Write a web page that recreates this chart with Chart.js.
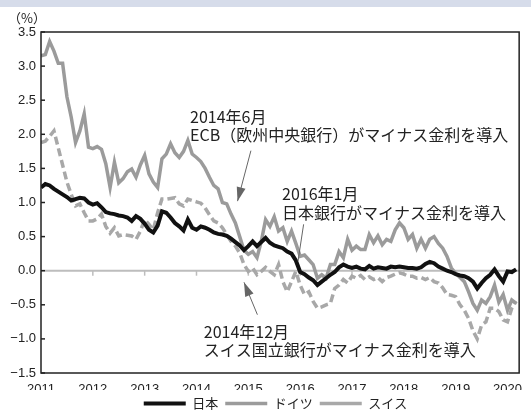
<!DOCTYPE html>
<html>
<head>
<meta charset="utf-8">
<script src="https://cdn.jsdelivr.net/npm/chart.js@4.4.0/dist/chart.umd.min.js"></script>
<style>
html, body { margin: 0; padding: 0; background: #fff; }
</style>
</head>
<body>
<canvas id="rate-chart" width="531" height="410"></canvas>
<script>
// 10年国債利回り（月次、2011年1月〜2020年3月）
var yearLabels = ['2011', '2012', '2013', '2014', '2015', '2016', '2017', '2018', '2019', '2020'];
var seriesNames = ['日本', 'ドイツ', 'スイス'];

var japan = [
    1.22, 1.27, 1.25, 1.20, 1.16, 1.12, 1.08, 1.03, 1.05, 1.07, 1.06, 1.00,
    0.97, 0.99, 0.93, 0.86, 0.84, 0.83, 0.81, 0.80, 0.78, 0.73, 0.80, 0.76,
    0.69, 0.60, 0.56, 0.66, 0.87, 0.85, 0.78, 0.70, 0.65, 0.59, 0.75, 0.63,
    0.60, 0.65, 0.63, 0.60, 0.56, 0.54, 0.53, 0.51, 0.47, 0.42, 0.37, 0.30,
    0.36, 0.43, 0.36, 0.42, 0.48, 0.41, 0.37, 0.35, 0.33, 0.28, 0.25, 0.15,
    -0.02, -0.05, -0.10, -0.14, -0.21, -0.16, -0.11, -0.06, -0.02, 0.05, 0.09, 0.06,
    0.04, 0.06, 0.03, 0.02, 0.07, 0.03, 0.05, 0.04, 0.03, 0.06, 0.05, 0.06,
    0.05, 0.04, 0.04, 0.03, 0.05, 0.10, 0.13, 0.11, 0.06, 0.03, 0.00, -0.02,
    -0.05, -0.07, -0.08, -0.11, -0.16, -0.26, -0.18, -0.11, -0.06, 0.02, -0.08, -0.16,
    -0.01, -0.02, 0.02
];
var germany = [
    3.15, 3.17, 3.36, 3.22, 3.04, 3.04, 2.55, 2.25, 1.88, 2.05, 2.30, 1.81,
    1.79, 1.82, 1.78, 1.57, 1.22, 1.59, 1.29, 1.35, 1.45, 1.49, 1.37, 1.55,
    1.69, 1.42, 1.30, 1.22, 1.64, 1.71, 1.86, 1.73, 1.66, 1.75, 1.91, 1.71,
    1.66, 1.60, 1.50, 1.37, 1.25, 1.20, 1.00, 0.98, 0.83, 0.70, 0.50, 0.30,
    0.24, 0.28, 0.19, 0.43, 0.75, 0.65, 0.79, 0.58, 0.63, 0.43, 0.58, 0.40,
    0.21, 0.23, 0.16, 0.09, -0.11, -0.06, -0.11, 0.09, 0.09, 0.28, 0.19, 0.46,
    0.30, 0.36, 0.31, 0.31, 0.53, 0.41, 0.51, 0.38, 0.46, 0.43, 0.60, 0.70,
    0.63, 0.46, 0.53, 0.33, 0.46, 0.33, 0.46, 0.50, 0.40, 0.33, 0.21, 0.04,
    -0.04, -0.10, -0.16, -0.31, -0.48, -0.58, -0.43, -0.48, -0.38, -0.21, -0.46, -0.35,
    -0.58, -0.43, -0.48
];
var swiss = [
    1.88, 1.90, 1.97, 2.05, 1.80, 1.55, 1.30, 1.12, 0.95, 0.98, 0.85, 0.73,
    0.73, 0.76, 0.83, 0.65, 0.55, 0.63, 0.51, 0.53, 0.52, 0.51, 0.46, 0.58,
    0.75, 0.68, 0.60, 0.85, 1.05, 1.05, 1.06, 1.07, 0.98, 0.95, 1.05, 1.03,
    1.01, 0.99, 0.92, 0.82, 0.73, 0.70, 0.63, 0.53, 0.43, 0.36, 0.26, 0.09,
    -0.01, 0.04, -0.06, -0.01, 0.05, -0.01, -0.06, 0.09, -0.16, -0.31, -0.16, -0.01,
    -0.21, -0.35, -0.31, -0.45, -0.55, -0.53, -0.50, -0.48, -0.26, -0.21, -0.13, -0.18,
    -0.08, -0.11, -0.07, -0.13, -0.09, -0.13, -0.10, -0.16, -0.10, -0.08, -0.05, -0.03,
    -0.05, -0.08, -0.08, -0.11, -0.10, -0.13, -0.10, -0.16, -0.18, -0.25, -0.35, -0.36,
    -0.38, -0.50, -0.58, -0.70, -0.88, -1.00, -0.80, -0.75, -0.55, -0.55, -0.60, -0.72,
    -0.75, -0.55, -0.45
];

// 注記（位置は月番号と利回りで指定）
var notes = [
    { lines: ['2014年6月', 'ECB（欧州中央銀行）がマイナス金利を導入'], at: [34.5, 2.26], from: [48.6, 1.76], to: [45.5, 1.02], head: true },
    { lines: ['2016年1月', '日本銀行がマイナス金利を導入'], at: [55.8, 1.125], from: [60.8, 0.68], to: [59.5, 0.14], head: false },
    { lines: ['2014年12月', 'スイス国立銀行がマイナス金利を導入'], at: [37.7, -0.895], from: [50.1, -0.645], to: [47, -0.17], head: true }
];

function toPoints(values) {
    return values.map(function (v, i) { return { x: i, y: v }; });
}

var jpFont = '"Noto Sans CJK JP", "Noto Sans", sans-serif';
var numFont = '"Liberation Sans", Arial, sans-serif';

var decorations = {
    id: 'decorations',
    afterLayout: function (chart) {
        // 凡例を少し右へ
        chart.legend.left += 22;
    },
    beforeDraw: function (chart) {
        var ctx = chart.ctx;
        ctx.save();
        ctx.fillStyle = '#d6dcea';
        ctx.fillRect(0, 0, chart.width, 7);
        ctx.restore();
    },
    beforeDatasetsDraw: function (chart) {
        var ctx = chart.ctx, area = chart.chartArea;
        var xs = chart.scales.x, ys = chart.scales.y;
        var y0 = ys.getPixelForValue(0);
        ctx.save();
        ctx.strokeStyle = '#bdbdbd';
        ctx.lineWidth = 2;
        ctx.beginPath();
        ctx.moveTo(area.left, y0);
        ctx.lineTo(area.right, y0);
        ctx.stroke();
        ctx.lineWidth = 1.5;
        xs.ticks.forEach(function (t) {
            if (t.value <= 0) return;
            var px = xs.getPixelForValue(t.value);
            ctx.beginPath();
            ctx.moveTo(px, y0);
            ctx.lineTo(px, y0 + 5);
            ctx.stroke();
        });
        ctx.restore();
    },
    afterDatasetsDraw: function (chart) {
        var ctx = chart.ctx, area = chart.chartArea;
        var xs = chart.scales.x, ys = chart.scales.y;
        ctx.save();
        // 枠
        ctx.strokeStyle = '#222';
        ctx.lineWidth = 1.5;
        ctx.strokeRect(area.left, area.top, area.right - area.left, area.bottom - area.top);
        // 目盛り（内向き）
        ys.ticks.forEach(function (t) {
            var py = ys.getPixelForValue(t.value);
            ctx.beginPath();
            ctx.moveTo(area.left, py);
            ctx.lineTo(area.left + 4, py);
            ctx.stroke();
        });
        // 単位
        ctx.fillStyle = '#222';
        ctx.font = '13px ' + jpFont;
        ctx.textBaseline = 'middle';
        ctx.textAlign = 'left';
        ctx.fillText('（%）', 8, area.top - 14);
        // 注記
        ctx.font = '16px ' + jpFont;
        notes.forEach(function (n) {
            var tx = xs.getPixelForValue(n.at[0]);
            var ty = ys.getPixelForValue(n.at[1]);
            n.lines.forEach(function (line, i) {
                ctx.fillText(line, tx, ty + i * 18.5);
            });
            var x1 = xs.getPixelForValue(n.from[0]), y1 = ys.getPixelForValue(n.from[1]);
            var x2 = xs.getPixelForValue(n.to[0]), y2 = ys.getPixelForValue(n.to[1]);
            ctx.strokeStyle = '#666';
            ctx.lineWidth = 1;
            ctx.beginPath();
            ctx.moveTo(x1, y1);
            ctx.lineTo(x2, y2);
            ctx.stroke();
            if (n.head) {
                var ang = Math.atan2(y2 - y1, x2 - x1);
                var len = 14, half = 4.5;
                var bx = x2 - len * Math.cos(ang), by = y2 - len * Math.sin(ang);
                ctx.fillStyle = '#666';
                ctx.beginPath();
                ctx.moveTo(x2, y2);
                ctx.lineTo(bx + half * Math.sin(ang), by - half * Math.cos(ang));
                ctx.lineTo(bx - half * Math.sin(ang), by + half * Math.cos(ang));
                ctx.closePath();
                ctx.fill();
                ctx.fillStyle = '#222';
            }
        });
        ctx.restore();
    }
};

new Chart(document.getElementById('rate-chart'), {
    type: 'line',
    data: {
        datasets: [
            {
                label: seriesNames[0],
                data: toPoints(japan),
                borderColor: '#111',
                backgroundColor: '#111',
                borderWidth: 4,
                pointRadius: 0,
                tension: 0
            },
            {
                label: seriesNames[1],
                data: toPoints(germany),
                borderColor: '#9b9b9b',
                backgroundColor: '#9b9b9b',
                borderWidth: 3.5,
                pointRadius: 0,
                tension: 0
            },
            {
                label: seriesNames[2],
                data: toPoints(swiss),
                borderColor: '#a8a8a8',
                backgroundColor: '#a8a8a8',
                borderWidth: 3.5,
                borderDash: [8, 4],
                pointRadius: 0,
                tension: 0
            }
        ]
    },
    options: {
        responsive: false,
        animation: false,
        layout: { padding: { top: 32, right: 2, bottom: -10, left: 0 } },
        plugins: {
            tooltip: { enabled: false },
            legend: {
                position: 'bottom',
                labels: {
                    usePointStyle: true,
                    pointStyle: 'line',
                    pointStyleWidth: 42,
                    padding: 7,
                    color: '#222',
                    font: { family: jpFont, size: 13 }
                }
            }
        },
        scales: {
            x: {
                type: 'linear',
                min: 0,
                max: 110.7,
                afterFit: function (scale) { scale.height = 17; },
                afterBuildTicks: function (scale) {
                    scale.ticks = yearLabels.map(function (y, i) { return { value: i * 12 }; });
                },
                grid: { display: false, drawTicks: false },
                border: { display: false },
                ticks: {
                    padding: 9,
                    maxRotation: 0,
                    autoSkip: false,
                    color: '#222',
                    font: { family: numFont, size: 13 },
                    callback: function (v) { return yearLabels[Math.round(v / 12)]; }
                }
            },
            y: {
                min: -1.5,
                max: 3.5,
                afterFit: function (scale) { scale.width = 41; },
                grid: { display: false, drawTicks: false },
                border: { display: false },
                ticks: {
                    stepSize: 0.5,
                    padding: 5,
                    color: '#222',
                    font: { family: numFont, size: 13 },
                    callback: function (v) { return v.toFixed(1).replace('-', '−'); }
                }
            }
        }
    },
    plugins: [decorations]
});
</script>
</body>
</html>
